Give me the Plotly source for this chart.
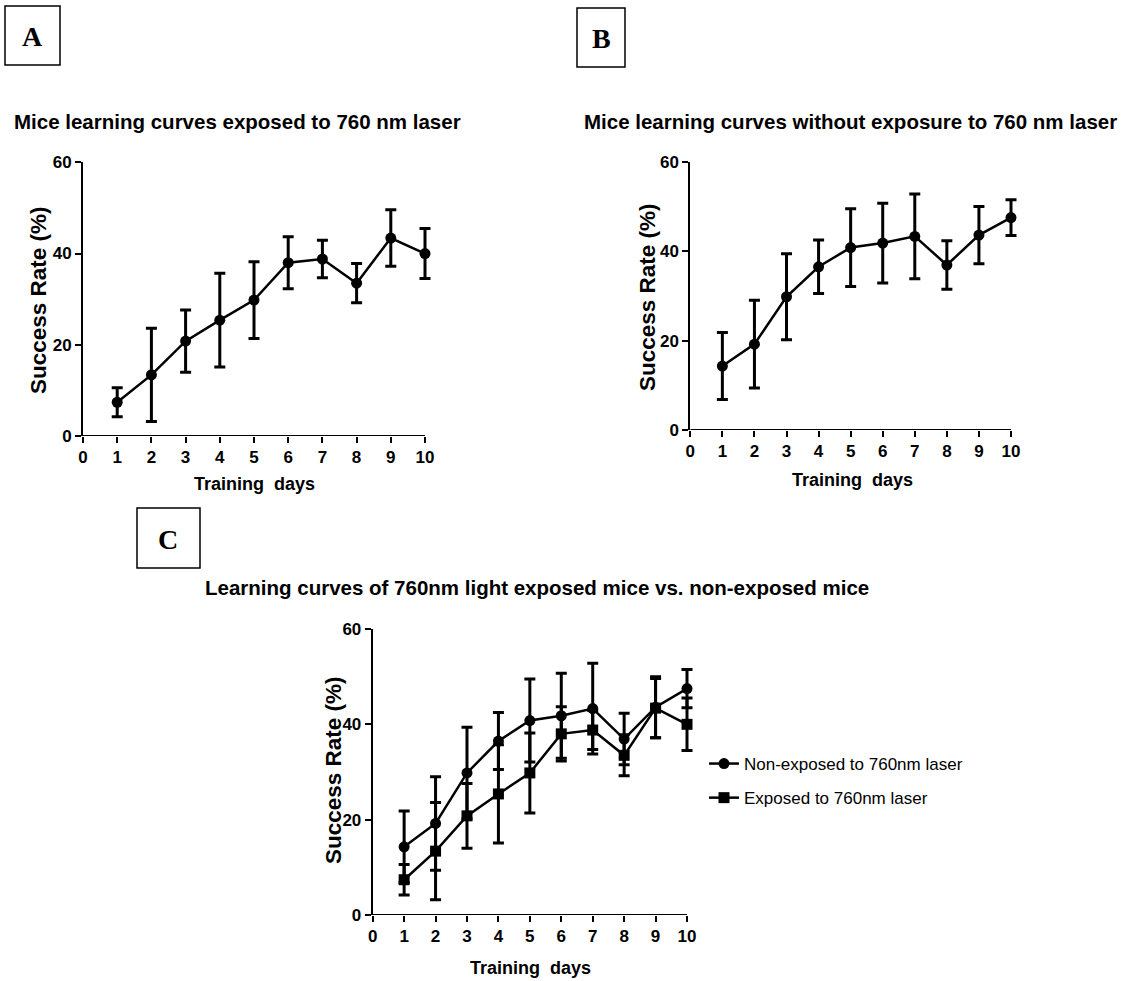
import plotly.graph_objects as go

W, H = 1128, 981

days = [1, 2, 3, 4, 5, 6, 7, 8, 9, 10]
exposed_mean = [7.4, 13.4, 20.8, 25.4, 29.8, 38.0, 38.8, 33.5, 43.4, 40.0]
exposed_err = [3.2, 10.2, 6.8, 10.3, 8.4, 5.7, 4.1, 4.3, 6.2, 5.5]
nonexposed_mean = [14.3, 19.2, 29.8, 36.5, 40.8, 41.8, 43.3, 36.9, 43.6, 47.5]
nonexposed_err = [7.5, 9.8, 9.6, 6.0, 8.7, 8.9, 9.5, 5.4, 6.4, 4.0]

x_ticks = [0, 1, 2, 3, 4, 5, 6, 7, 8, 9, 10]
y_ticks = [0, 20, 40, 60]

title_a = "Mice learning curves exposed to 760 nm laser"
title_b = "Mice learning curves without exposure to 760 nm laser"
title_c = "Learning curves of 760nm light exposed mice vs. non-exposed mice"
name_non = "Non-exposed to 760nm laser"
name_exp = "Exposed to 760nm laser"
x_title = "Training  days"
y_title = "Success Rate (%)"

X_MAX = 10.4  # room so the last error-bar caps are not clipped


def px(x):
    return x / W


def py(y):
    return 1 - y / H


SANS = "Liberation Sans, Arial, sans-serif"
SERIF = "Liberation Serif, Times New Roman, serif"

fig = go.Figure()


def add_series(mean, err, symbol, xa, ya, name=None, legend=False, group=None):
    fig.add_trace(go.Scatter(
        x=days, y=mean, xaxis=xa, yaxis=ya,
        mode="lines+markers",
        name=name,
        showlegend=legend,
        legendgroup=group,
        line=dict(color="black", width=2.5),
        marker=dict(symbol=symbol, size=11, color="black"),
        error_y=dict(type="data", array=err, visible=True,
                     color="black", thickness=3, width=5.5),
        cliponaxis=False,
    ))


add_series(exposed_mean, exposed_err, "circle", "x", "y")
add_series(nonexposed_mean, nonexposed_err, "circle", "x2", "y2")
add_series(nonexposed_mean, nonexposed_err, "circle", "x3", "y3", name_non, True, "g1")
add_series(exposed_mean, exposed_err, "square", "x3", "y3", name_exp, True, "g2")

axis_common = dict(
    linewidth=2, linecolor="black", mirror=False,
    ticks="outside", ticklen=6, tickwidth=2, tickcolor="black",
    showgrid=False, zeroline=False, automargin=False,
    tickfont=dict(family=SANS, size=17, color="black", weight="bold"),
)

panels = {
    "": dict(x0=83, x1=425, y0=162.3, y1=436),
    "2": dict(x0=690.3, x1=1011, y0=161.7, y1=430),
    "3": dict(x0=372.7, x1=687, y0=629, y1=915),
}

layout = dict(
    template="none",
    width=W, height=H,
    margin=dict(l=0, r=0, t=0, b=0, pad=0),
    paper_bgcolor="white", plot_bgcolor="white",
    showlegend=True,
    legend=dict(
        x=px(704), y=py(746), xanchor="left", yanchor="top",
        font=dict(family=SANS, size=17, color="black"),
        bgcolor="rgba(0,0,0,0)", borderwidth=0, tracegroupgap=9,
        traceorder="grouped", itemwidth=30,
    ),
)

shapes = []
for k, p in panels.items():
    xr = p["x0"] + (p["x1"] - p["x0"]) * X_MAX / 10
    layout["xaxis" + k] = dict(
        axis_common, showline=False,
        domain=[px(p["x0"]), px(xr)], range=[0, X_MAX],
        tickvals=x_ticks, anchor="y" + k,
    )
    layout["yaxis" + k] = dict(
        axis_common, showline=True,
        domain=[py(p["y1"]), py(p["y0"])], range=[0, 60],
        tickvals=y_ticks, anchor="x" + k,
    )
    # x-axis baseline running from day 0 to day 10 only
    shapes.append(dict(type="line", xref="x" + k, yref="y" + k,
                       x0=0, x1=10, y0=0, y1=0,
                       line=dict(color="black", width=2)))

fig.update_layout(**layout)

annotations = []


def text(t, x, y, size, bold=True, family=SANS, xanchor="center", angle=0):
    annotations.append(dict(
        text=t, x=px(x), y=py(y), xref="paper", yref="paper",
        xanchor=xanchor, yanchor="middle", showarrow=False, textangle=angle,
        font=dict(family=family, size=size, color="black",
                  weight="bold" if bold else "normal"),
    ))


# titles
text(title_a, 12, 122, 20.5, xanchor="left")
text(title_b, 582, 122, 20.5, xanchor="left")
text(title_c, 203, 587, 20.5, xanchor="left")

# axis titles
text(x_title, 254, 484, 18)
text(x_title, 852, 480, 18)
text(x_title, 530, 968, 18)
text(y_title, 38, 300, 22.5, angle=-90)
text(y_title, 648, 297, 22.5, angle=-90)
text(y_title, 333, 770, 22.5, angle=-90)

# panel letter boxes
boxes = [("A", 5, 6, 60, 65), ("B", 577, 8, 625, 67), ("C", 137, 508, 200, 568)]
for letter, x0, y0, x1, y1 in boxes:
    shapes.append(dict(type="rect", xref="paper", yref="paper",
                       x0=px(x0), x1=px(x1), y0=py(y1), y1=py(y0),
                       line=dict(color="black", width=1.5)))
    text(letter, (x0 + x1) / 2, (y0 + y1) / 2 + 1, 28, family=SERIF)

fig.update_layout(annotations=annotations, shapes=shapes)

fig.write_html(
    "out.html",
    config={"displayModeBar": False},
    post_script="document.body.style.margin='0';document.body.style.overflow='hidden';",
)
